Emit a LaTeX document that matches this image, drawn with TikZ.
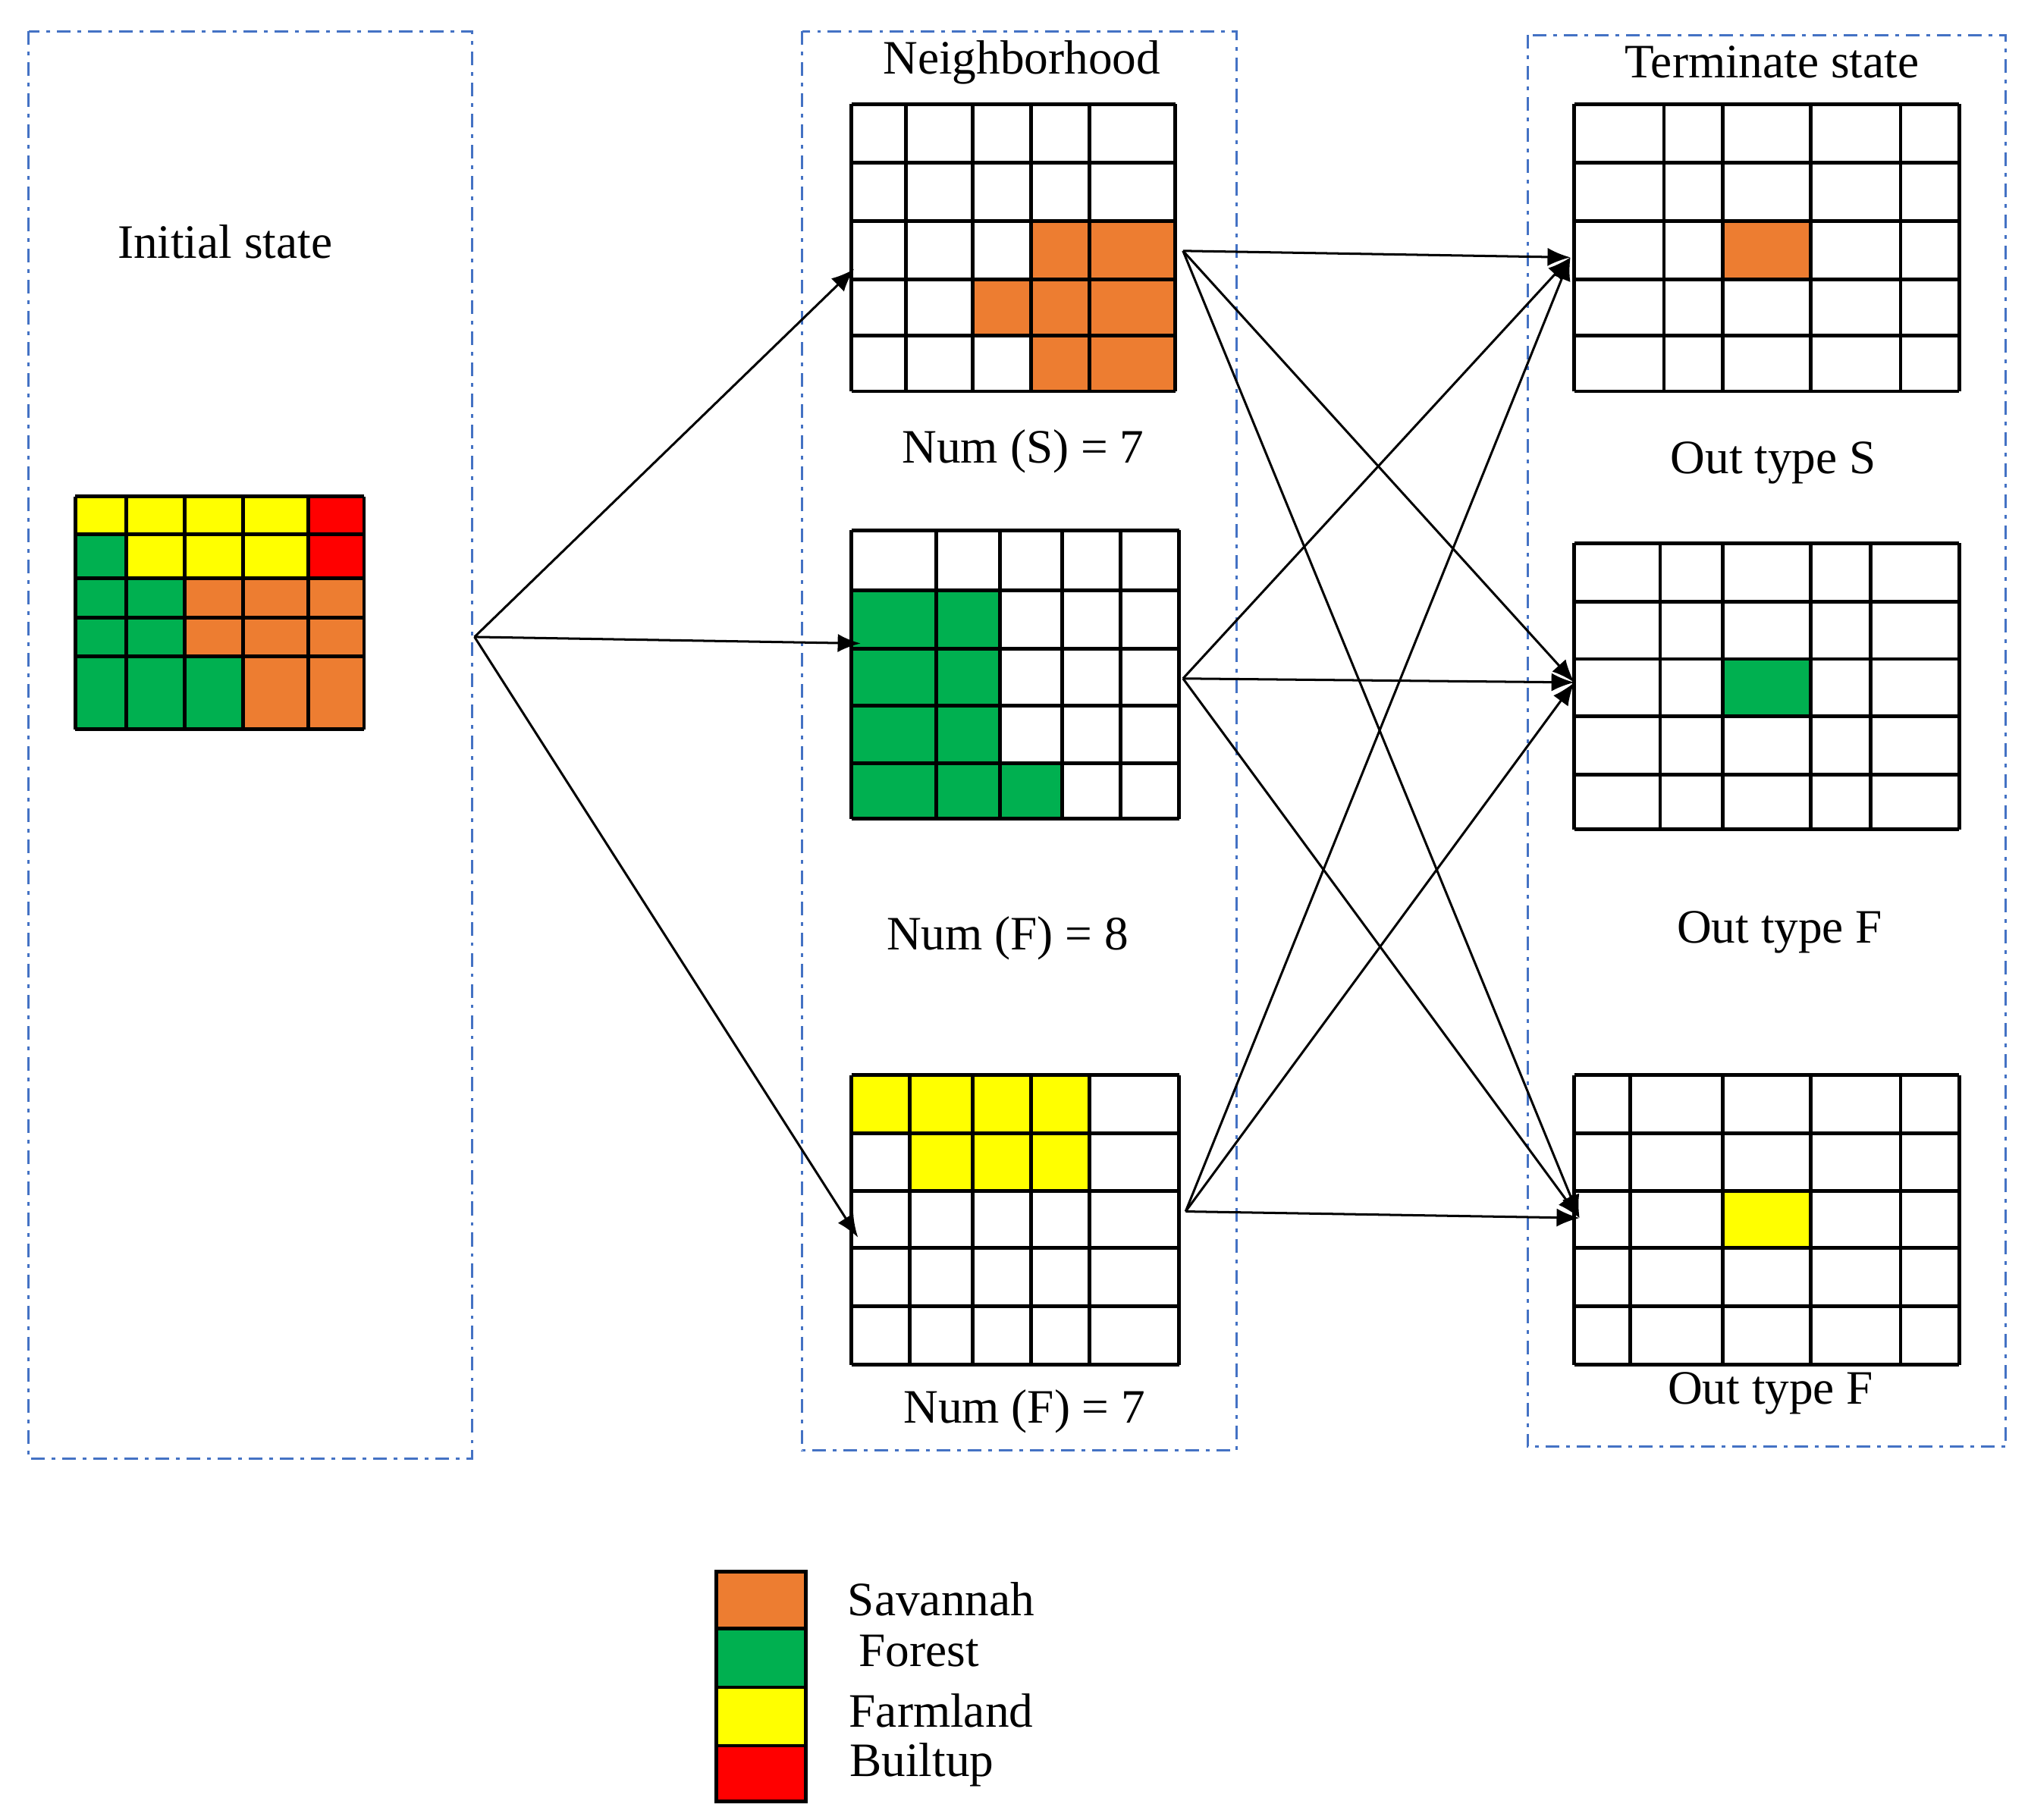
\documentclass[tikz,border=0pt]{standalone}
\usepackage{fontspec}
\setmainfont{Liberation Serif}
\usetikzlibrary{arrows.meta}
\definecolor{savcol}{RGB}{237,125,49}
\definecolor{forcol}{RGB}{0,176,80}
\definecolor{farcol}{RGB}{255,255,0}
\definecolor{bltcol}{RGB}{255,0,0}
\definecolor{boxcol}{RGB}{68,114,196}
\tikzset{
  panel/.style={draw=boxcol, dash pattern=on 3pt off 1.5pt on 0.8pt off 1.5pt, line width=0.5pt},
  lbl/.style={font=\fontsize{10.5}{12}\selectfont, inner sep=0pt},
  cell/.style={line width=0.8pt},
  flow/.style={-{Latex[length=5pt,width=4pt]}, line width=0.5pt}
}
\begin{document}
\begin{tikzpicture}[x=0.01cm,y=-0.01cm]%[auto]
\useasboundingbox (0,0) rectangle (1560,1400);

\draw [panel] (22,24) rectangle (363,1122);
\draw [panel] (617,24) rectangle (951,1116);
\draw [panel] (1175,27) rectangle (1543,1113);

\node [lbl] (init) at (173,186) {Initial state};
\node [lbl] (nbhd) at (786,48) {Neighborhood};
\node [lbl] (term) at (1363,48) {Terminate state};
\node [lbl] (numS) at (787,347) {Num (S) = 7};
\node [lbl] (numF) at (775,722) {Num (F) = 8};
\node [lbl] (numFb) at (788,1086) {Num (F) = 7};
\node [lbl] (outS) at (1364,356) {Out type S};
\node [lbl] (outF) at (1369,717) {Out type F};
\node [lbl] (outFb) at (1362,1072) {Out type F};

% initial state grid
\fill [farcol] (58,382) rectangle (237,411) (97,411) rectangle (237,445);
\fill [bltcol] (237,382) rectangle (280,445);
\fill [forcol] (58,411) rectangle (97,561) (97,445) rectangle (142,561) (142,505) rectangle (187,561);
\fill [savcol] (142,445) rectangle (280,505) (187,505) rectangle (280,561);
\foreach \c in {58,97,142,187,237,280} \draw [cell] (\c,382) -- (\c,561);
\foreach \r in {382,411,445,475,505,561} \draw [cell] (58,\r) -- (280,\r);

% neighborhood grids
\fill [savcol] (793,170) rectangle (904,301) (748,215) rectangle (793,258);
\foreach \c in {655,697,748,793,838,904} \draw [cell] (\c,80) -- (\c,301);
\foreach \r in {80,125,170,215,258,301} \draw [cell] (655,\r) -- (904,\r);

\fill [forcol] (655,454) rectangle (769,630) (769,587) rectangle (817,630);
\foreach \c in {655,720,769,817,862,907} \draw [cell] (\c,408) -- (\c,630);
\foreach \r in {408,454,499,543,587,630} \draw [cell] (655,\r) -- (907,\r);

\fill [farcol] (655,827) rectangle (838,872) (700,872) rectangle (838,916);
\foreach \c in {655,700,748,793,838,907} \draw [cell] (\c,827) -- (\c,1050);
\foreach \r in {827,872,916,960,1005,1050} \draw [cell] (655,\r) -- (907,\r);

% terminate grids
\fill [savcol] (1325,170) rectangle (1393,215);
\foreach \c in {1211,1280,1325,1393,1462,1507} \draw [cell] (\c,80) -- (\c,301);
\foreach \r in {80,125,170,215,258,301} \draw [cell] (1211,\r) -- (1507,\r);

\fill [forcol] (1325,507) rectangle (1393,551);
\foreach \c in {1211,1277,1325,1393,1439,1507} \draw [cell] (\c,418) -- (\c,638);
\foreach \r in {418,463,507,551,596,638} \draw [cell] (1211,\r) -- (1507,\r);

\fill [farcol] (1325,916) rectangle (1393,960);
\foreach \c in {1211,1254,1325,1393,1462,1507} \draw [cell] (\c,827) -- (\c,1050);
\foreach \r in {827,872,916,960,1005,1050} \draw [cell] (1211,\r) -- (1507,\r);

% arrow ends
\coordinate (src) at (365,490);
\coordinate (nA) at (657,207);
\coordinate (nB) at (662,495);
\coordinate (nC) at (660,952);
\coordinate (oA) at (910,193);
\coordinate (oB) at (910,522);
\coordinate (oC) at (912,932);
\coordinate (tA) at (1208,198);
\coordinate (tB) at (1211,525);
\coordinate (tC) at (1215,937);

\foreach \n in {nA,nB,nC} \draw [flow] (src) -- (\n);
\foreach \o in {oA,oB,oC}
  \foreach \t in {tA,tB,tC} \draw [flow] (\o) -- (\t);

% legend
\fill [savcol] (551,1209) rectangle (620,1253);
\fill [forcol] (551,1253) rectangle (620,1298);
\fill [farcol] (551,1298) rectangle (620,1343);
\fill [bltcol] (551,1343) rectangle (620,1386);
\draw [cell] (551,1209) rectangle (620,1386);
\foreach \r in {1253,1298,1343} \draw [cell] (551,\r) -- (620,\r);
\node [lbl] (sav) at (724,1230) {Savannah};
\node [lbl] (for) at (707,1270) {Forest};
\node [lbl] (far) at (724,1316) {Farmland};
\node [lbl] (blt) at (709,1358) {Builtup};
\end{tikzpicture}
\end{document}
